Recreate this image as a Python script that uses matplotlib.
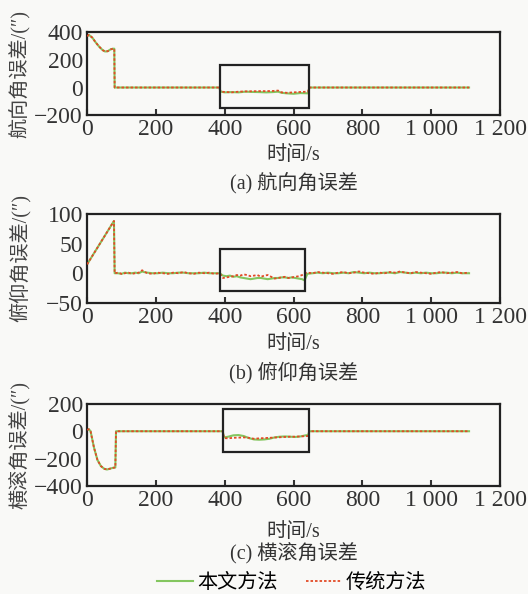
import numpy as np
import matplotlib
matplotlib.use('Agg')
import matplotlib.pyplot as plt
from matplotlib.patches import Rectangle
from matplotlib.lines import Line2D

# --- data ---
# (a) heading error
t_a = [0, 5, 15, 25, 35, 45, 52, 60, 68, 75, 79, 80, 200, 384, 388, 400, 420, 440, 460,
       480, 500, 520, 540, 555, 565, 580, 600, 620, 642, 646, 800, 1000, 1110]
red_a = [370, 380, 360, 325, 295, 270, 260, 262, 275, 280, 280, 0, 0, 0, -30, -32, -35, -30,
         -28, -27, -26, -26, -25, -22, -35, -38, -35, -32, -30, 0, 0, 0, 0]
green_a = [370, 380, 360, 325, 295, 270, 260, 262, 275, 280, 280, 0, 0, 0, -30, -35, -33, -35,
           -30, -32, -33, -35, -33, -30, -38, -42, -45, -40, -42, 0, 0, 0, 0]

# (b) pitch error
t_b = [0, 78, 80, 90, 100, 110, 120, 130, 140, 150, 160, 165, 175, 190, 205, 220, 235, 250,
       265, 280, 295, 310, 325, 340, 355, 370, 385,
       395, 405, 415, 425, 435, 445, 455, 465, 475, 485, 495, 505, 515, 525, 535, 545, 555,
       565, 575, 585, 595, 605, 615, 625, 632,
       640, 655, 670, 685, 700, 715, 730, 745, 760, 775, 790, 805, 820, 835, 850, 865, 880,
       895, 910, 925, 940, 955, 970, 985, 1000, 1015, 1030, 1045, 1060, 1075, 1090, 1110]
red_b = [15, 88, 0, 1, -1, 0, 1, -1, 0, 1, 5, 3, 0, -1, 1, 0, -1, 1, 0, 2, 0, -1, 1, 0, 1, -1, 0,
         -8, -7, -6, -5, -3, -4, -2, -3, -5, -4, -3, -6, -4, -3, -6, -9, -8, -7, -6, -8, -7,
         -6, -5, -3, 0,
         1, 0, 2, 1, 0, -1, 1, 2, 0, 1, 3, 1, 0, -1, 1, 0, 2, 1, 3, 1, 0, 2, 1, 0, -1, 1, 2,
         0, 1, 2, 0, 1]
green_b = [15, 88, 0, 0, -1, 1, 0, 0, 1, 0, 3, 2, 1, 0, 0, 1, 0, 0, 1, 1, 0, 0, 0, 1, 0, 0, 0,
           -4, -5, -4, -6, -5, -7, -8, -9, -10, -9, -8, -8, -9, -10, -9, -8, -8, -7, -7, -8,
           -7, -8, -9, -10, -12,
           -1, 0, 1, 0, 1, 0, 0, 1, 0, 2, 1, 0, 1, 0, 0, 1, 1, 0, 2, 1, 0, 1, 0, 1, 0, 0, 1,
           1, 0, 1, 0, 0]

# (c) roll error
t_c = [0, 5, 10, 20, 30, 40, 50, 58, 65, 75, 82, 84, 200, 394, 398, 410, 425, 440, 455, 470,
       485, 500, 515, 530, 545, 560, 575, 590, 605, 620, 635, 642, 646, 800, 1000, 1110]
red_c = [10, 15, 0, -120, -210, -255, -275, -280, -275, -268, -265, 0, 0, 0, -50, -52, -48,
         -47, -45, -48, -55, -52, -50, -48, -46, -44, -42, -40, -40, -38, -36, -35, 0, 0, 0, 0]
green_c = [10, 15, 0, -120, -210, -255, -275, -280, -275, -268, -265, 0, 0, 0, -45, -40, -30,
           -28, -35, -50, -60, -62, -60, -55, -45, -40, -38, -40, -42, -38, -30, -28, 0, 0, 0, 0]

panels = [
    (t_a, green_a, red_a, (-200, 400), [-200, 0, 200, 400], (385, -150, 645, 160),
     '航向角误差/(″)', '(a) 航向角误差'),
    (t_b, green_b, red_b, (-50, 100), [-50, 0, 50, 100], (385, -30, 632, 40),
     '俯仰角误差/(″)', '(b) 俯仰角误差'),
    (t_c, green_c, red_c, (-400, 200), [-400, -200, 0, 200], (395, -150, 645, 160),
     '横滚角误差/(″)', '(c) 横滚角误差'),
]

xticks = [0, 200, 400, 600, 800, 1000, 1200]
xticklabels = ['0', '200', '400', '600', '800', '1 000', '1 200']

GREEN = '#84c65f'
RED = '#e24a26'
BG = '#f9f9f7'
fam = ['Liberation Serif', 'Noto Sans CJK SC']

fig = plt.figure(figsize=(5.28, 5.94), dpi=100, facecolor=BG)

# axes boxes: [left, bottom, width, height] in figure fractions
boxes = [[0.165, 0.806, 0.782, 0.140],
         [0.165, 0.490, 0.782, 0.150],
         [0.165, 0.182, 0.782, 0.138]]
xlabel_y = [0.738, 0.420, 0.104]
title_y = [0.690, 0.372, 0.068]

for i, (t, g, r, ylim, yt, rect, ylab, ttl) in enumerate(panels):
    ax = fig.add_axes(boxes[i], facecolor=BG)
    ax.plot(t, g, color=GREEN, lw=1.5, zorder=2)
    ax.plot(t, r, color=RED, lw=1.3, linestyle=(0, (1.4, 1.1)), zorder=3)
    x0, y0, x1, y1 = rect
    ax.add_patch(Rectangle((x0, y0), x1 - x0, y1 - y0, fill=False,
                           edgecolor='#222222', lw=1.6, zorder=4))
    ax.set_xlim(0, 1200)
    ax.set_ylim(*ylim)
    ax.set_xticks(xticks)
    ax.set_xticklabels(xticklabels)
    ax.set_yticks(yt)
    ax.tick_params(axis='x', direction='in', length=4, width=1.5, pad=3,
                   labelsize=17, colors='#333333')
    ax.tick_params(axis='y', length=0, pad=3, labelsize=17, colors='#333333')
    for lbl in ax.get_xticklabels() + ax.get_yticklabels():
        lbl.set_family('Liberation Serif')
    for s in ax.spines.values():
        s.set_linewidth(1.6)
        s.set_color('#222222')
    yc = boxes[i][1] + boxes[i][3] / 2
    fig.text(0.038, yc, ylab, rotation=90, ha='center', va='center',
             family=fam, fontsize=14.5, color='#444444')
    fig.text(0.556, xlabel_y[i], '时间/s', ha='center', va='center',
             family=fam, fontsize=14.5, color='#333333')
    fig.text(0.556, title_y[i], ttl, ha='center', va='center',
             family=fam, fontsize=14.5, color='#333333')

handles = [Line2D([], [], color=GREEN, lw=1.5),
           Line2D([], [], color=RED, lw=1.3, linestyle=(0, (1.4, 1.1)))]
fig.legend(handles, ['本文方法', '传统方法'], loc='center', bbox_to_anchor=(0.552, 0.018),
           ncol=2, frameon=False, prop={'family': fam, 'size': 14.5},
           handlelength=1.8, handletextpad=0.2, columnspacing=1.4)

fig.savefig('out.png', dpi=100, facecolor=BG)
